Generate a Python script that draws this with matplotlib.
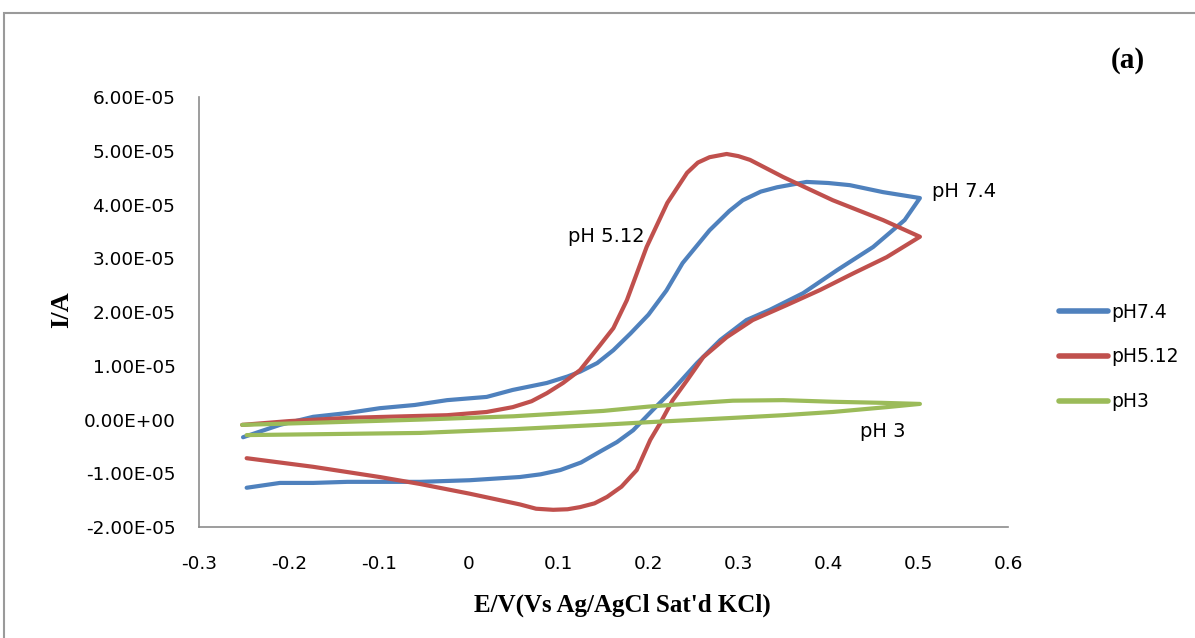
import matplotlib
matplotlib.use("Agg")
import matplotlib.pyplot as plt
from matplotlib.ticker import FuncFormatter, MultipleLocator
from matplotlib.patches import Rectangle
import numpy as np

# ---- data (potential in V, current in units of 1e-5 A) ----
blue_fwd_x = [-0.251, -0.21, -0.173, -0.135, -0.099, -0.06, -0.024, 0.02, 0.049, 0.087,
              0.11, 0.124, 0.143, 0.161, 0.18, 0.2, 0.22, 0.238, 0.268, 0.29, 0.305,
              0.325, 0.343, 0.376, 0.4, 0.424, 0.461, 0.502]
blue_fwd_y = [-0.33, -0.1, 0.05, 0.12, 0.21, 0.27, 0.36, 0.42, 0.55, 0.68,
              0.8, 0.89, 1.05, 1.29, 1.6, 1.95, 2.4, 2.91, 3.52, 3.88, 4.08,
              4.24, 4.32, 4.42, 4.4, 4.36, 4.23, 4.12]
blue_rev_x = [0.485, 0.45, 0.41, 0.372, 0.335, 0.309, 0.28, 0.254, 0.227, 0.205, 0.183,
              0.165, 0.149, 0.125, 0.102, 0.08, 0.057, 0.001, -0.054, -0.1, -0.135,
              -0.173, -0.21, -0.247]
blue_rev_y = [3.71, 3.21, 2.78, 2.35, 2.04, 1.85, 1.48, 1.05, 0.55, 0.18, -0.2,
              -0.42, -0.57, -0.8, -0.94, -1.02, -1.07, -1.13, -1.16, -1.16, -1.16,
              -1.18, -1.18, -1.27]

red_fwd_x = [-0.252, -0.2, -0.135, -0.07, -0.024, 0.02, 0.049, 0.07, 0.087, 0.105, 0.124,
             0.146, 0.161, 0.176, 0.198, 0.221, 0.243, 0.255, 0.268, 0.287, 0.3, 0.313,
             0.35, 0.405, 0.461, 0.502]
red_fwd_y = [-0.1, -0.03, 0.03, 0.06, 0.08, 0.14, 0.23, 0.34, 0.49, 0.68, 0.92,
             1.38, 1.7, 2.22, 3.21, 4.03, 4.59, 4.78, 4.88, 4.94, 4.9, 4.83,
             4.51, 4.08, 3.71, 3.40]
red_rev_x = [0.465, 0.428, 0.391, 0.354, 0.316, 0.287, 0.261, 0.243, 0.227, 0.213, 0.202,
             0.187, 0.17, 0.154, 0.14, 0.124, 0.11, 0.094, 0.075, 0.057, 0.001, -0.054,
             -0.099, -0.173, -0.247]
red_rev_y = [3.02, 2.72, 2.41, 2.13, 1.85, 1.53, 1.16, 0.73, 0.36, -0.07, -0.38,
             -0.94, -1.25, -1.44, -1.56, -1.63, -1.67, -1.68, -1.66, -1.58, -1.38, -1.2,
             -1.07, -0.88, -0.72]

green_fwd_x = [-0.252, -0.15, -0.05, 0.05, 0.15, 0.2, 0.257, 0.294, 0.35, 0.405, 0.46, 0.502]
green_fwd_y = [-0.1, -0.05, 0.0, 0.06, 0.16, 0.24, 0.31, 0.35, 0.36, 0.33, 0.31, 0.29]
green_rev_x = [0.465, 0.405, 0.35, 0.294, 0.2, 0.146, 0.05, -0.054, -0.15, -0.247]
green_rev_y = [0.23, 0.14, 0.08, 0.03, -0.05, -0.1, -0.18, -0.25, -0.27, -0.29]

series_names = ["pH7.4", "pH5.12", "pH3"]
series_colors = ["#4F81BD", "#C0504D", "#9BBB59"]

x_ticks = [-0.3, -0.2, -0.1, 0, 0.1, 0.2, 0.3, 0.4, 0.5, 0.6]

# ---- figure ----
W, H = 1195, 638
fig = plt.figure(figsize=(W / 100, H / 100), dpi=100)
fig.patches.append(Rectangle((4 / W, -0.05), 1.2, 1 - 13 / H + 0.05, transform=fig.transFigure,
                             fill=False, edgecolor="#9a9a9a", linewidth=1.5))

ax = fig.add_axes([199 / W, 1 - 527 / H, (1008 - 199) / W, (527 - 97) / H])

loops = [
    (blue_fwd_x + blue_rev_x, blue_fwd_y + blue_rev_y),
    (red_fwd_x + red_rev_x, red_fwd_y + red_rev_y),
    (green_fwd_x + green_rev_x, green_fwd_y + green_rev_y),
]
for (xs, ys), name, col in zip(loops, series_names, series_colors):
    ax.plot(xs, np.array(ys) * 1e-5, color=col, lw=3.0, label=name,
            solid_joinstyle="round", solid_capstyle="round")

ax.set_xlim(-0.3, 0.6)
ax.set_ylim(-2e-5, 6e-5)
ax.set_xticks(x_ticks)
ax.xaxis.set_major_formatter(FuncFormatter(lambda v, p: f"{v:g}"))
ax.yaxis.set_major_locator(MultipleLocator(1e-5))
ax.yaxis.set_major_formatter(FuncFormatter(lambda v, p: f"{v:.2E}"))
for s in ["top", "right"]:
    ax.spines[s].set_visible(False)
for s in ["left", "bottom"]:
    ax.spines[s].set_color("#8c8c8c")
    ax.spines[s].set_linewidth(1.2)
ax.tick_params(length=0, labelsize=13.3, colors="black")
ax.tick_params(axis="x", pad=20)
ax.tick_params(axis="y", pad=17)

ax.set_xlabel("E/V(Vs Ag/AgCl Sat'd KCl)", fontfamily="Liberation Serif",
              fontweight="bold", fontsize=18)
ax.set_ylabel("I/A", fontfamily="Liberation Serif", fontweight="bold", fontsize=19)
ax.xaxis.label.set_va("center")
ax.yaxis.label.set_va("center")
ax.xaxis.set_label_coords((622 - 199) / 809, -(605 - 527) / 430)
ax.yaxis.set_label_coords((62 - 199) / 809, (527 - 310) / 430)

ax.text(0.196, 3.4e-5, "pH 5.12", fontsize=14, ha="right", va="center")
ax.text(0.515, 4.25e-5, "pH 7.4", fontsize=14, ha="left", va="center")
ax.text(0.435, -0.23e-5, "pH 3", fontsize=14, ha="left", va="center")

fig.text(1128 / W, 1 - 60 / H, "(a)", fontfamily="Liberation Serif", fontweight="bold",
         fontsize=21, ha="center", va="center")

leg = fig.legend(loc="center left", bbox_to_anchor=(1042 / W, 1 - 357 / H), frameon=False,
                 fontsize=13.5, handlelength=2.6, handletextpad=0.2, labelspacing=1.38)
for line in leg.get_lines():
    line.set_linewidth(4)

fig.savefig("out.png", dpi=100)
